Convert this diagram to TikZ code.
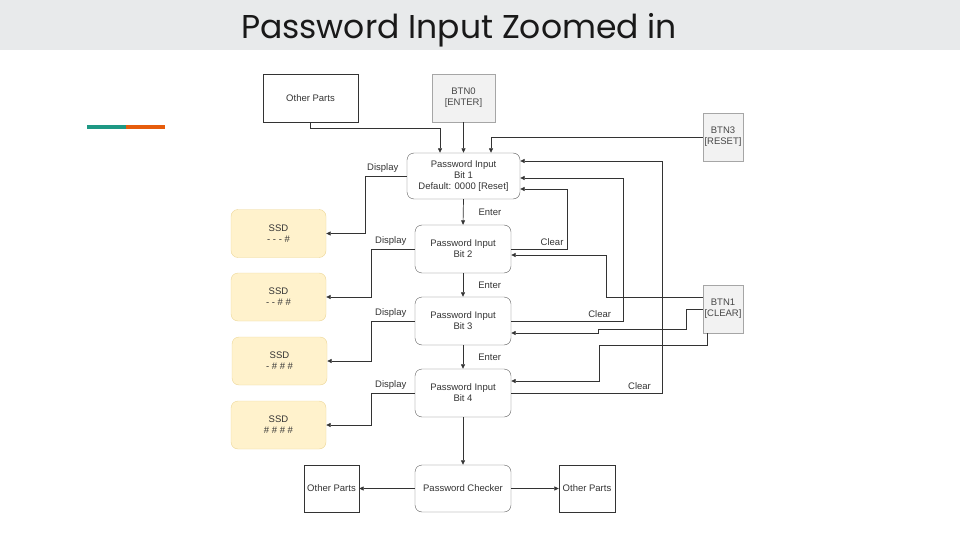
\documentclass[tikz,border=0pt]{standalone}
\usepackage{fontspec}
\setmainfont{Liberation Sans}
\newfontfamily\titlefont{Poppins}
\usetikzlibrary{arrows.meta,positioning,calc}
\definecolor{band}{RGB}{232,234,235}
\definecolor{ink}{RGB}{51,51,51}
\definecolor{ssdfill}{RGB}{255,242,204}
\definecolor{ssdline}{RGB}{236,214,150}
\definecolor{btnfill}{RGB}{242,242,242}
\definecolor{teal}{RGB}{30,152,132}
\definecolor{orng}{RGB}{230,92,12}

\begin{document}
\begin{tikzpicture}[
  x=1pt, y=-1pt,
  font=\fontsize{9.5}{11}\selectfont,
  inputnode/.style={rectangle, draw=ink!80, rounded corners=7pt, inner sep=0pt, align=center, text=ink},
  plainnode/.style={rectangle, draw=ink, inner sep=0pt, align=center, text=ink},
  btnnode/.style={rectangle, draw=gray!70, fill=btnfill, inner sep=0pt, align=center, text=ink!90},
  ssdnode/.style={rectangle, draw=ssdline, fill=ssdfill, rounded corners=7pt, inner sep=0pt, align=center, minimum width=95pt, minimum height=48pt, text=ink},
  arr/.style={-{Triangle[length=4.5pt,width=4pt]}, ink, line width=0.7pt},
  lbl/.style={text=ink, inner sep=3pt}
]
\useasboundingbox (0,0) rectangle (960,540);

% header
\fill[band] (0,0) rectangle (960,50);
\node[text=black!90, font=\titlefont\fontsize{33}{38}\selectfont] (title) at (459,30) {Password Input Zoomed in};
\fill[teal] (87,125) rectangle (126,129);
\fill[orng] (126,125) rectangle (165,129);

% inputs
\node[plainnode, minimum width=95pt, minimum height=48pt] (op1) at (310.5,98) {Other Parts};
\node[btnnode, minimum width=63pt, minimum height=48pt] (btn0) at (463.5,98) {BTN0\\{[ENTER]}};
\node[btnnode, minimum width=40pt, minimum height=48pt] (btn3) at (723,137) {BTN3\\{[RESET]}};
\node[btnnode, minimum width=40pt, minimum height=48pt] (btn1) at (723,309) {BTN1\\{[CLEAR]}};

% password bits
\node[inputnode, minimum width=113pt, minimum height=46pt] (b1) at (463.5,176) {Password Input\\Bit 1\\Default: 0000 [Reset]};
\node[inputnode, minimum width=96pt, minimum height=48pt] (b2) at (463,249) {Password Input\\Bit 2};
\node[inputnode, minimum width=96pt, minimum height=48pt] (b3) at (463,321) {Password Input\\Bit 3};
\node[inputnode, minimum width=96pt, minimum height=48pt] (b4) at (463,393) {Password Input\\Bit 4};
\node[inputnode, minimum width=96pt, minimum height=47pt] (chk) at (463,488.5) {Password Checker};

% displays
\node[ssdnode] (ssd1) at (278.5,233.5) {SSD\\- - - \#};
\node[ssdnode] (ssd2) at (278.5,297) {SSD\\- - \# \#};
\node[ssdnode] (ssd3) at (279.5,361) {SSD\\- \# \# \#};
\node[ssdnode] (ssd4) at (278.5,425) {SSD\\\# \# \# \#};

% outputs
\node[plainnode, minimum width=55pt, minimum height=47pt] (opl) at (331.5,488.5) {Other Parts};
\node[plainnode, minimum width=56pt, minimum height=47pt] (opr) at (587,488.5) {Other Parts};

% into bit 1
\draw[arr] (op1.south) -- ++(0,6) -| ([xshift=-23.5pt]b1.north);
\draw[arr] (btn0.south) -- (b1.north);
\draw[arr] (btn3.west) -| ([xshift=27.5pt]b1.north);

% enter
\draw[arr] (b1.south) -- node[lbl, right=12pt] {Enter} (b2.north);
\draw[arr] (b2.south) -- node[lbl, right=12pt] {Enter} (b3.north);
\draw[arr] (b3.south) -- node[lbl, right=12pt] {Enter} (b4.north);
\draw[arr] (b4.south) -- (chk.north);

% display
\draw[arr] (b1.west) -- node[lbl, pos=0.585, above] {Display} ++(-41,0) |- (ssd1.east);
\draw[arr] (b2.west) -- node[lbl, pos=0.56, above] {Display} ++(-43,0) |- (ssd2.east);
\draw[arr] (b3.west) -- node[lbl, pos=0.56, above] {Display} ++(-43,0) |- (ssd3.east);
\draw[arr] (b4.west) -- node[lbl, pos=0.56, above] {Display} ++(-43,0) |- (ssd4.east);

% clear back to bit 1
\draw[arr] (b2.east) -- node[lbl, pos=0.73, above] {Clear} ++(56,0) |- ([yshift=-13pt]b1.east);
\draw[arr] (b3.east) -- node[lbl, pos=0.79, above] {Clear} ++(112,0) |- ([yshift=-2pt]b1.east);
\draw[arr] (b4.east) -- node[lbl, pos=0.85, above] {Clear} ++(151,0) |- ([yshift=15pt]b1.east);

% BTN1
\draw[arr] ([yshift=12pt]btn1.west) -- ++(-96,0) |- ([yshift=-6pt]b2.east);
\draw[arr] (btn1.west) -- ++(-16,0) -- ++(0,20) -- ++(-88,0) |- ([yshift=-12pt]b3.east);
\draw[arr] ([xshift=-16pt]btn1.south) -- ++(0,12) -- ++(-108,0) |- ([yshift=12pt]b4.east);

% checker
\draw[arr] (chk.west) -- (opl.east);
\draw[arr] (chk.east) -- (opr.west);

\end{tikzpicture}
\end{document}
